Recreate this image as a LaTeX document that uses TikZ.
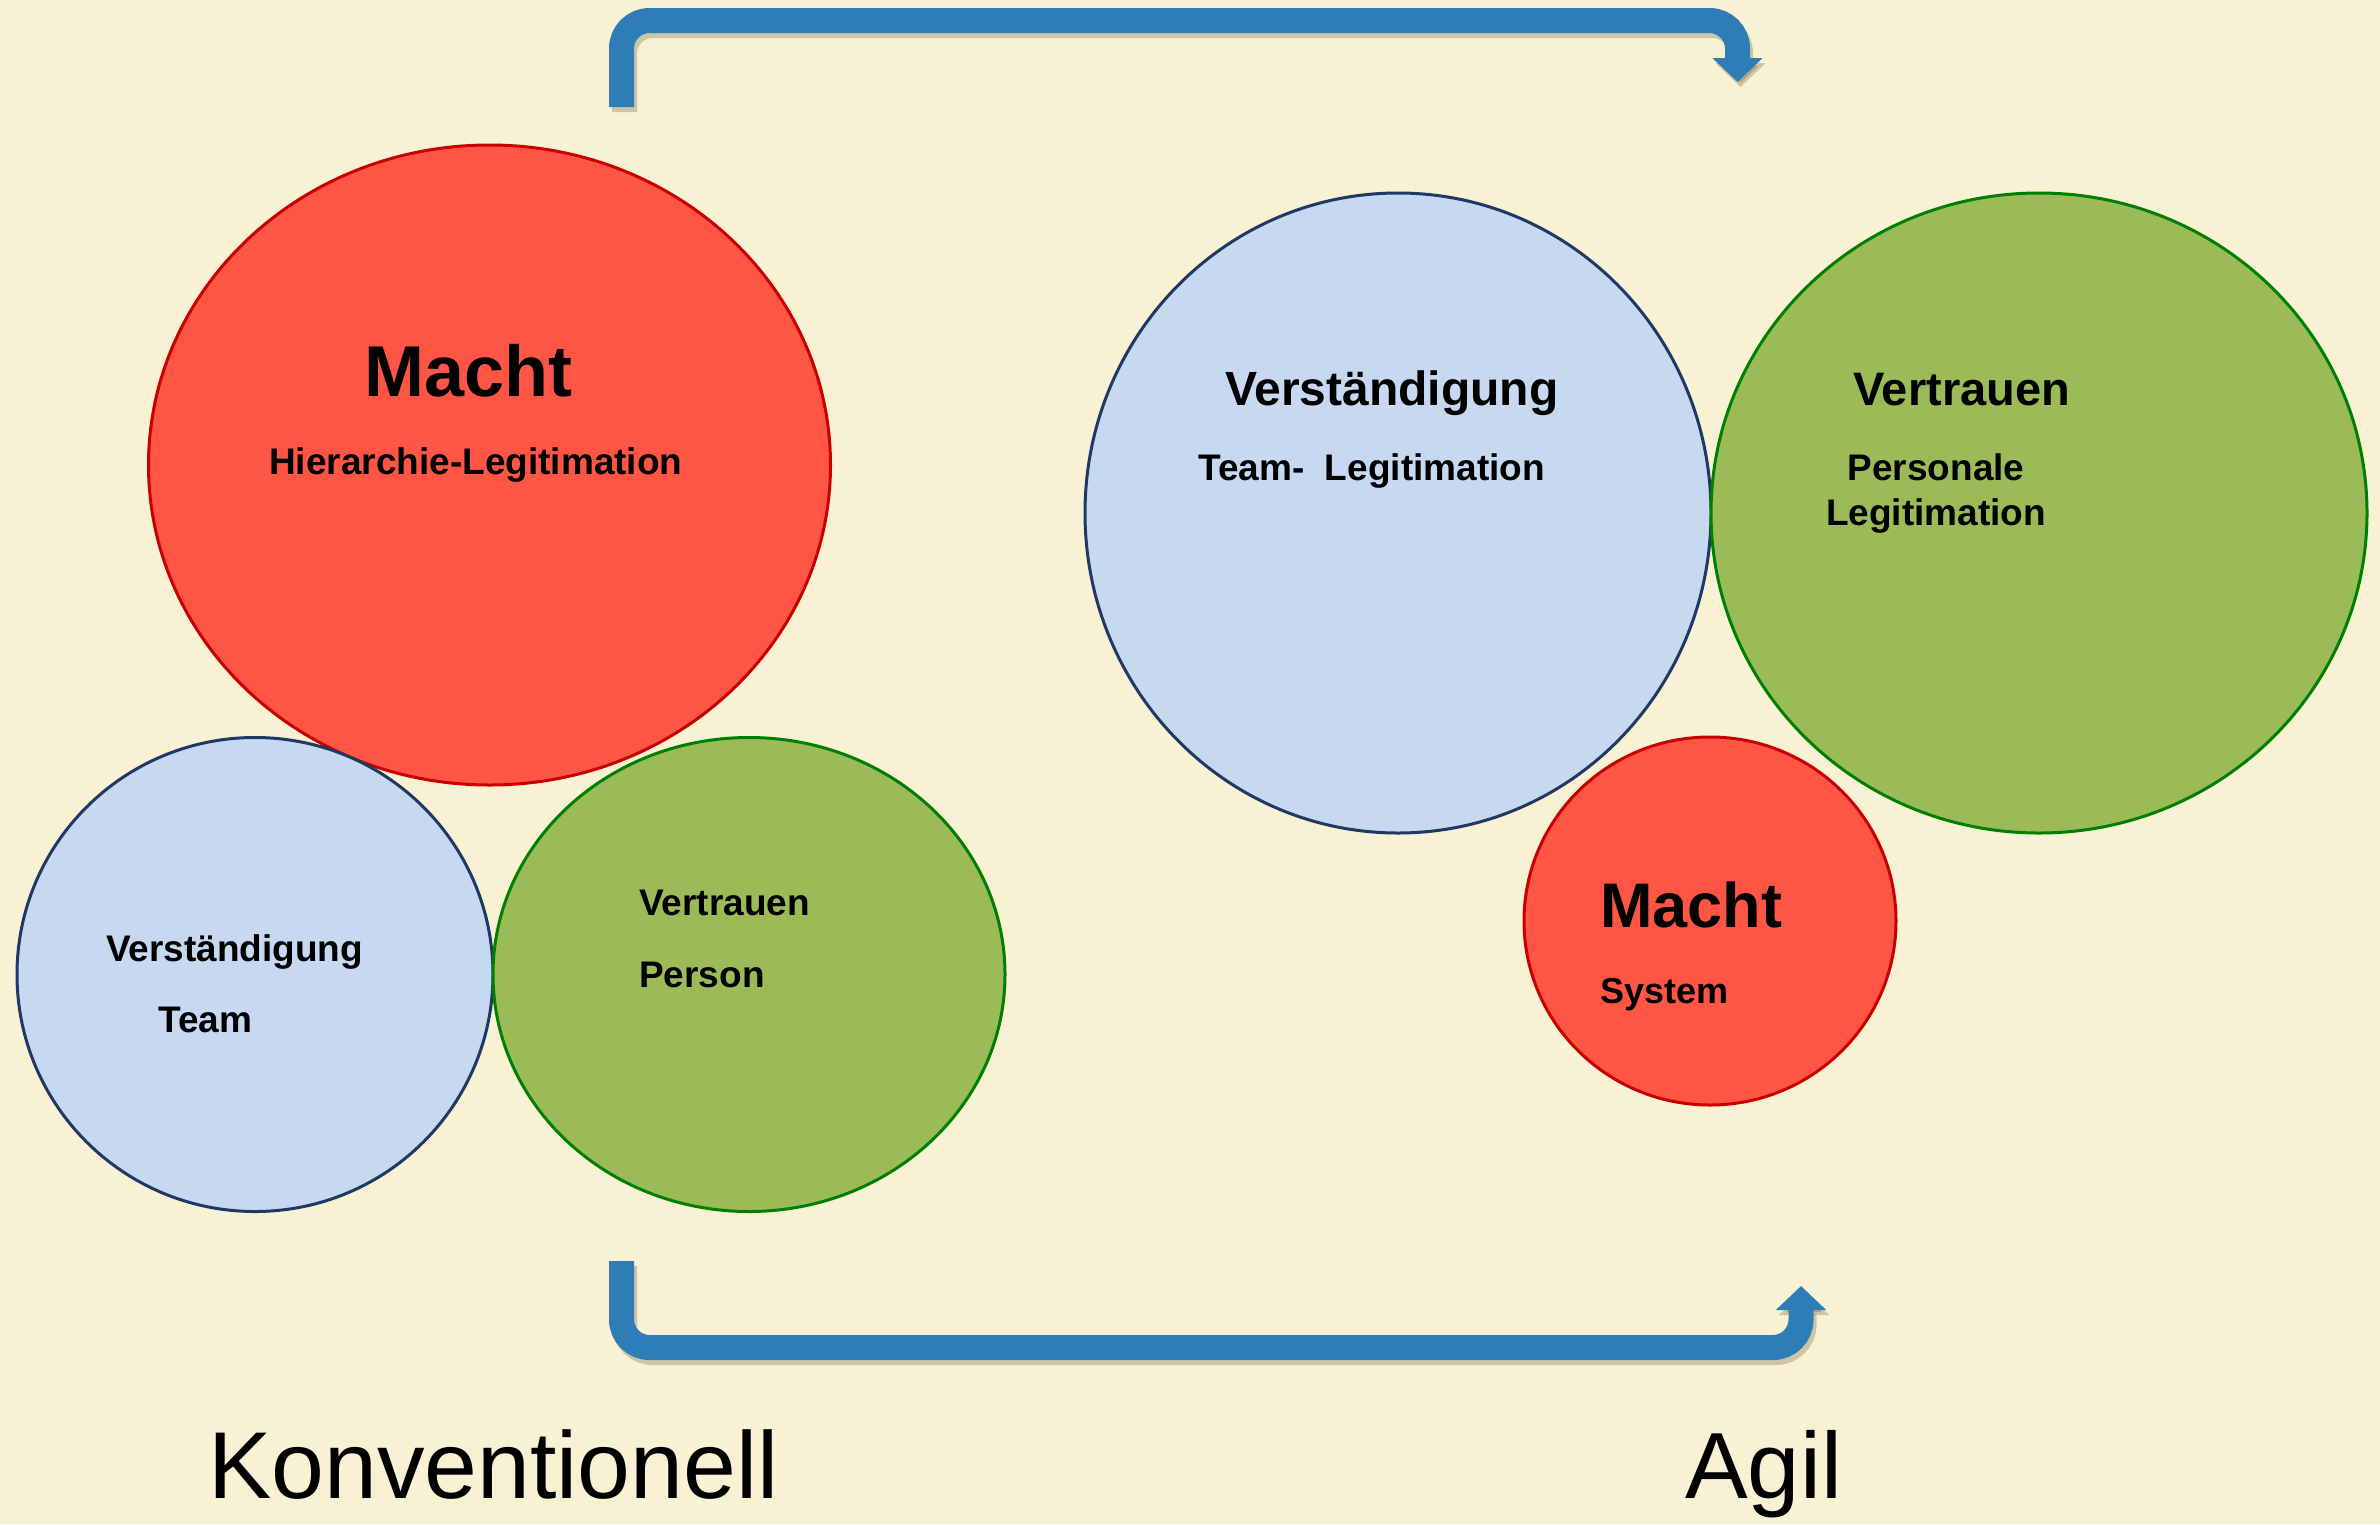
\documentclass[tikz,border=0pt]{standalone}
\usepackage{fontspec}
\setmainfont{Liberation Sans}
\usetikzlibrary{shapes.geometric, arrows.meta}

\definecolor{paper}{RGB}{248,241,212}
\definecolor{machtfill}{RGB}{255,85,68}
\definecolor{machtline}{RGB}{200,0,0}
\definecolor{teamfill}{RGB}{198,217,241}
\definecolor{teamline}{RGB}{31,56,100}
\definecolor{trustfill}{RGB}{155,187,89}
\definecolor{trustline}{RGB}{0,128,0}
\definecolor{flowblue}{RGB}{46,125,182}
\definecolor{flowshade}{RGB}{110,95,60}

\newcommand{\fs}[1]{\fontsize{#1}{1.2\dimexpr#1pt\relax}\selectfont}

\tikzset{
  blob/.style={draw, ellipse, line width=3pt, inner sep=0pt},
  macht/.style={blob, fill=machtfill, draw=machtline},
  team/.style={blob, fill=teamfill, draw=teamline},
  trust/.style={blob, fill=trustfill, draw=trustline},
  label/.style={anchor=base west, inner sep=0pt, font=\bfseries},
  flow/.style={draw=flowblue, line width=25pt, rounded corners=28pt,
    -{Triangle[width=49pt, length=24pt]}},
  flowshadow/.style={flow, draw=flowshade, opacity=0.3}
}

\begin{document}
\begin{tikzpicture}[x=1pt, y=-1pt]

% Background
\useasboundingbox (0,0) rectangle (2380,1524);
\fill[paper] (0,0) rectangle (2380,1524);

% Konventionell: the three circles
\node[macht, minimum width=682pt, minimum height=640pt] (M1) at (489.5,465) {};
\node[team,  minimum width=476pt, minimum height=474pt] (V1) at (255,974.5) {};
\node[trust, minimum width=512pt, minimum height=474pt] (T1) at (749,974.5) {};

\node[label, font=\bfseries\fs{72}] (M1title) at (364,396) {Macht};
\node[label, font=\bfseries\fs{37}] (M1sub) at (269,474) {Hierarchie-Legitimation};
\node[label, font=\bfseries\fs{37}] (V1title) at (106,961) {Verständigung};
\node[label, font=\bfseries\fs{37}] (V1sub) at (158,1032) {Team};
\node[label, font=\bfseries\fs{37}] (T1title) at (639,915) {Vertrauen};
\node[label, font=\bfseries\fs{37}] (T1sub) at (639,987) {Person};

% Agil: the three circles
\node[team,  minimum width=626pt, minimum height=640pt] (V2) at (1398,513) {};
\node[trust, minimum width=656pt, minimum height=640pt] (T2) at (2039,513) {};
\node[macht, minimum width=372pt, minimum height=368pt] (M2) at (1710,921) {};

\node[label, font=\bfseries\fs{48}] (V2title) at (1225,405) {Verständigung};
\node[label, font=\bfseries\fs{37}] (V2sub) at (1198,480) {Team-\ \ Legitimation};
\node[label, font=\bfseries\fs{47}] (T2title) at (1853,405) {Vertrauen};
\node[label, anchor=base, font=\bfseries\fs{37}] (T2sub) at (1936,480) {Personale};
\node[label, anchor=base, font=\bfseries\fs{37}] (T2subb) at (1936,525) {Legitimation};
\node[label, font=\bfseries\fs{63}] (M2title) at (1600,927) {Macht};
\node[label, font=\bfseries\fs{36}] (M2sub) at (1600,1003) {System};

% captions
\node[anchor=base west, inner sep=0pt, font=\fs{95}] (konv) at (208,1498) {Konventionell};
\node[anchor=base west, inner sep=0pt, font=\fs{94}] (agil) at (1685,1498) {Agil};

% the two arrows
\coordinate (topL) at (621.5,107);
\coordinate (topR) at (1737.5,82);
\coordinate (botL) at (621.5,1261);
\coordinate (botR) at (1801,1286);

\draw[flowshadow, transform canvas={shift={(3pt,-5pt)}}] (topL) -- ++(0,-86.5) -| (topR);
\draw[flowshadow, transform canvas={shift={(3pt,-5pt)}}] (botL) -- ++(0,86.5) -| (botR);
\draw[flow] (topL) -- ++(0,-86.5) -| (topR);
\draw[flow] (botL) -- ++(0,86.5) -| (botR);

\end{tikzpicture}
\end{document}
